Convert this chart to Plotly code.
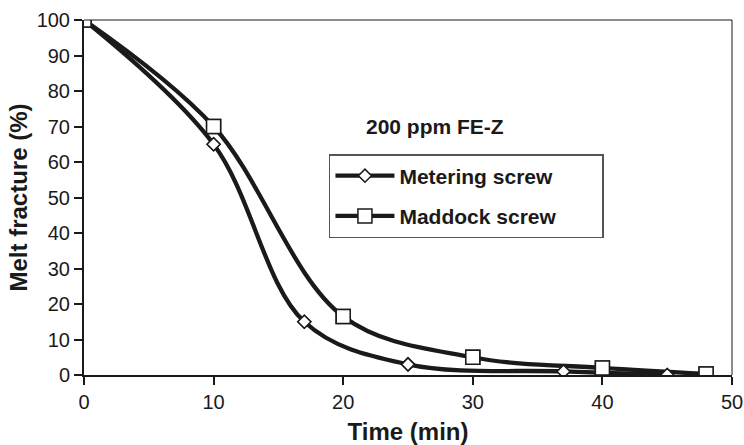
import plotly.graph_objects as go

# Data
met_time = [0, 10, 17, 25, 37, 45]
met_melt = [100, 65, 15, 3, 1, 0]
mad_time = [0, 10, 20, 30, 40, 48]
mad_melt = [100, 70, 16.5, 5, 2, 0.3]

x_ticks = [0, 10, 20, 30, 40, 50]
y_ticks = [0, 10, 20, 30, 40, 50, 60, 70, 80, 90, 100]

FONT = "Liberation Sans, Arial, sans-serif"
INK = "#1a1a1a"
PAD = "&nbsp;" * 7

fig = go.Figure()

fig.add_trace(go.Scatter(
    x=met_time, y=met_melt, mode="lines+markers", name="<b>Metering screw</b>" + PAD,
    line=dict(color=INK, width=4.3, shape="spline"),
    marker=dict(symbol="diamond", size=10, color="white", line=dict(color=INK, width=1.5)),
    legendgroup="a",
))
fig.add_trace(go.Scatter(
    x=mad_time, y=mad_melt, mode="lines+markers", name="<b>Maddock screw</b>" + PAD,
    line=dict(color=INK, width=4.3, shape="spline"),
    marker=dict(symbol="square", size=14, color="white", line=dict(color=INK, width=1.5)),
    legendgroup="b",
))
# markers on top of both lines
fig.add_trace(go.Scatter(
    x=met_time, y=met_melt, mode="markers", showlegend=False, hoverinfo="skip",
    marker=dict(symbol="diamond", size=10, color="white", line=dict(color=INK, width=1.5)),
))
fig.add_trace(go.Scatter(
    x=mad_time, y=mad_melt, mode="markers", showlegend=False, hoverinfo="skip",
    marker=dict(symbol="square", size=14, color="white", line=dict(color=INK, width=1.5)),
))

fig.add_annotation(
    x=27.1, y=70, xref="x", yref="y", text="<b>200 ppm FE-Z</b>", showarrow=False,
    font=dict(family=FONT, size=21, color=INK),
)

# thin top/right frame
fig.add_shape(type="line", xref="paper", yref="paper", x0=0, x1=1, y0=1, y1=1,
              line=dict(color=INK, width=1))
fig.add_shape(type="line", xref="paper", yref="paper", x0=1, x1=1, y0=0, y1=1,
              line=dict(color=INK, width=1))

fig.update_layout(
    width=744, height=445,
    margin=dict(l=84, r=12, t=20, b=70, autoexpand=False),
    paper_bgcolor="white", plot_bgcolor="white",
    font=dict(family=FONT, size=20, color=INK),
    legend=dict(
        x=0.378, y=0.6225, xanchor="left", yanchor="top",
        bordercolor="#555555", borderwidth=1.5, bgcolor="white",
        font=dict(family=FONT, size=21, color=INK),
        tracegroupgap=10, traceorder="grouped", itemwidth=59,
    ),
    xaxis=dict(
        range=[0, 50], tickvals=x_ticks, ticks="outside", ticklen=8, tickwidth=1.5,
        tickcolor=INK, showline=True, linecolor=INK, linewidth=2, showgrid=False,
        zeroline=False, tickfont=dict(size=20), automargin=False,
        title=dict(text="<b>Time (min)</b>", font=dict(size=24), standoff=13),
    ),
    yaxis=dict(
        range=[0, 100], tickvals=y_ticks, ticks="outside", ticklen=8, tickwidth=1.5,
        tickcolor=INK, showline=True, linecolor=INK, linewidth=2, showgrid=False,
        zeroline=False, tickfont=dict(size=20), automargin=False,
        title=dict(text="<b>Melt fracture (%)</b>", font=dict(size=24), standoff=2),
    ),
)

fig.write_html(
    "out.html",
    config={"displayModeBar": False},
    post_script="document.body.style.margin='0';document.body.style.overflow='hidden';",
)
